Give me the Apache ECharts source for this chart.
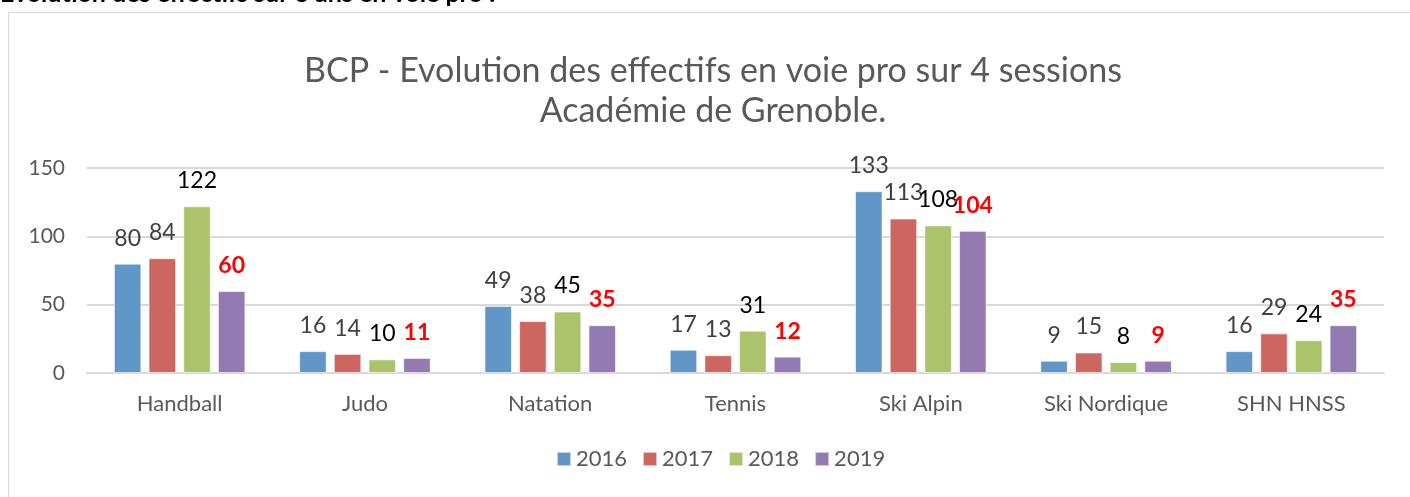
<!DOCTYPE html>
<html>
<head>
<meta charset="utf-8">
<script src="https://cdn.jsdelivr.net/npm/echarts@6/dist/echarts.min.js"></script>
<style>
html,body{margin:0;padding:0;background:#fff;}
#chart{width:1410px;height:497px;}
</style>
</head>
<body>
<div id="chart"></div>
<script>
const categories = ['Handball','Judo','Natation','Tennis','Ski Alpin','Ski Nordique','SHN HNSS'];
const years = ['2016','2017','2018','2019'];
const v2016 = [80,16,49,17,133,9,16];
const v2017 = [84,14,38,13,113,15,29];
const v2018 = [122,10,45,31,108,8,24];
const v2019 = [60,11,35,12,104,9,35];
const yTicks = [0,50,100,150];
const titleLines = ['BCP - Evolution des effectifs en voie pro sur 4 sessions','Académie de Grenoble.'];
const headerText = 'Evolution des effectifs sur 3 ans en voie pro :';

const colors = ['#6096c8','#cd6660','#abc46b','#937bb1'];
const labelStyles = [
  {color:'#404040', fontWeight:'normal'},
  {color:'#404040', fontWeight:'normal'},
  {color:'#000000', fontWeight:'normal'},
  {color:'#ff0000', fontWeight:'bold'}
];
const seriesData = [v2016, v2017, v2018, v2019];
const FONT = 'Lato, "Open Sans", sans-serif';

const chart = echarts.init(document.getElementById('chart'));
chart.setOption({
  animation:false,
  color: colors,
  textStyle:{fontFamily:FONT},
  graphic:[
    {type:'rect', shape:{x:8.5,y:12.5,width:1420,height:520}, style:{fill:'none',stroke:'#d9d9d9',lineWidth:1}, silent:true},
    {type:'text', left:0, top:-19, style:{text:headerText, font:'bold 25px '+FONT, fill:'#000'}, silent:true},
    {type:'text', x:713, y:71, style:{text:titleLines[0], font:'34px '+FONT, fill:'#595959', align:'center', verticalAlign:'middle'}, silent:true},
    {type:'text', x:713, y:111, style:{text:titleLines[1], font:'34px '+FONT, fill:'#595959', align:'center', verticalAlign:'middle'}, silent:true}
  ],
  legend:{
    data: years, bottom:22, left:551,
    itemWidth:14, itemHeight:14, itemGap:15, icon:'rect',
    textStyle:{fontFamily:FONT, fontSize:22, color:'#595959'}
  },
  grid:{left:87, right:26, top:168, bottom:124},
  xAxis:{
    type:'category', data:categories,
    axisLine:{lineStyle:{color:'#d9d9d9', width:2}},
    axisTick:{show:false},
    axisLabel:{fontFamily:FONT, fontSize:22, color:'#595959', margin:20}
  },
  yAxis:{
    type:'value', min:yTicks[0], max:yTicks[yTicks.length-1], interval:50,
    axisLine:{show:false}, axisTick:{show:false},
    splitLine:{lineStyle:{color:'#d9d9d9', width:2}},
    axisLabel:{fontFamily:FONT, fontSize:21, color:'#595959', margin:22}
  },
  series: years.map((y,i)=>({
    name:y, type:'bar', data:seriesData[i],
    barGap:'26%', barCategoryGap:'29%',
    itemStyle:{color:colors[i], borderColor:'rgba(255,255,255,0.6)', borderWidth:1},
    label:{show:true, position:'top', distance:14, fontFamily:FONT, fontSize:23,
      color:labelStyles[i].color, fontWeight:labelStyles[i].fontWeight}
  }))
});
</script>
</body>
</html>
